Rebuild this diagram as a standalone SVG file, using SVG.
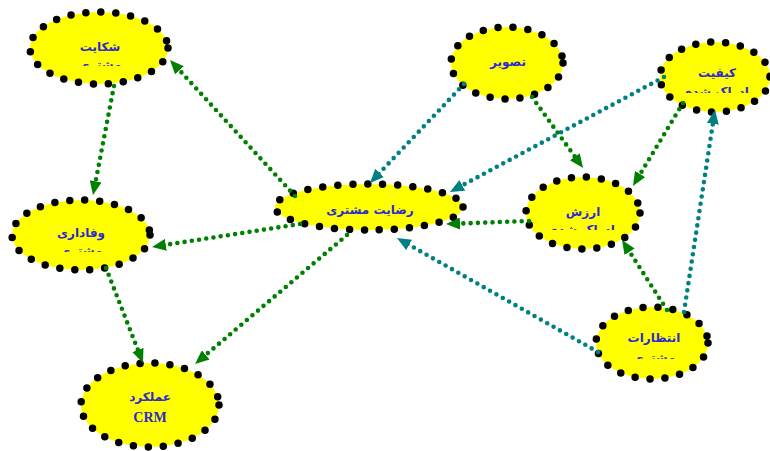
<svg xmlns="http://www.w3.org/2000/svg" width="770" height="451" viewBox="0 0 770 451">
<style>
.node{fill:#ffff00;stroke:#000;stroke-width:7.5;stroke-dasharray:0 15;stroke-linecap:round}
.lbl{font-family:"DejaVu Sans",sans-serif;font-size:12px;font-weight:bold;fill:#2b2bcf;text-anchor:middle}
.lat{font-family:"Liberation Serif",serif;font-size:14px;font-weight:bold;fill:#2b2bcf;text-anchor:middle}
.g{fill:none;stroke:#008000;stroke-width:4.6;stroke-dasharray:0 7.3;stroke-linecap:round;marker-end:url(#ag)}
.t{fill:none;stroke:#008080;stroke-width:4.6;stroke-dasharray:0 7.3;stroke-linecap:round;marker-end:url(#at)}
</style>
<defs>
<marker id="ag" markerUnits="userSpaceOnUse" markerWidth="14" markerHeight="12" refX="5" refY="6" orient="auto"><path d="M0,0 L14,6 L0,12 z" fill="#008000"/></marker>
<marker id="at" markerUnits="userSpaceOnUse" markerWidth="14" markerHeight="12" refX="5" refY="6" orient="auto"><path d="M0,0 L14,6 L0,12 z" fill="#008080"/></marker>
<clipPath id="c1"><rect x="0" y="62" width="770" height="4"/></clipPath>
<clipPath id="c2"><rect x="0" y="248" width="770" height="4"/></clipPath>
<clipPath id="c6"><rect x="0" y="87" width="770" height="6"/></clipPath>
<clipPath id="c7"><rect x="0" y="225" width="770" height="5"/></clipPath>
<clipPath id="c8"><rect x="0" y="355" width="770" height="4"/></clipPath>
</defs>
<rect width="770" height="451" fill="#fff"/>
<g id="n-shekayat"><ellipse class="node" cx="99" cy="48" rx="69" ry="36"/><text class="lbl" x="100" y="51">شکایت</text><text class="lbl" x="100" y="69" clip-path="url(#c1)">مشتری</text></g>
<g id="n-vafadari"><ellipse class="node" cx="81" cy="235" rx="69" ry="35"/><text class="lbl" x="81" y="237">وفاداری</text><text class="lbl" x="81" y="255" clip-path="url(#c2)">مشتری</text></g>
<g id="n-crm"><ellipse class="node" cx="150" cy="405" rx="69" ry="42"/><text class="lbl" x="150" y="401">عملکرد</text><text class="lat" x="150" y="422">CRM</text></g>
<g id="n-rezayat"><ellipse class="node" cx="369" cy="207" rx="94" ry="23"/><text class="lbl" x="370" y="214">رضایت مشتری</text></g>
<g id="n-tasvir"><ellipse class="node" cx="507" cy="63" rx="56" ry="36"/><text class="lbl" x="508" y="66">تصویر</text></g>
<g id="n-keyfiyat"><ellipse class="node" cx="715" cy="77" rx="55" ry="35"/><text class="lbl" x="717" y="77">کیفیت</text><text class="lbl" x="717" y="96" clip-path="url(#c6)">ادراک شده</text></g>
<g id="n-arzesh"><ellipse class="node" cx="583" cy="213" rx="57" ry="36"/><text class="lbl" x="583" y="216">ارزش</text><text class="lbl" x="583" y="234" clip-path="url(#c7)">ادراک شده</text></g>
<g id="n-entezarat"><ellipse class="node" cx="652" cy="343" rx="56" ry="36"/><text class="lbl" x="654" y="342">انتظارات</text><text class="lbl" x="654" y="362" clip-path="url(#c8)">مشتری</text></g>
<g id="connectors">
<path class="g" d="M295,196 L176.1,66.6"/>
<path class="g" d="M114,86 L94.7,186.2"/>
<path class="g" d="M300,224 L160.9,245.6"/>
<path class="g" d="M106,268 L139.7,354.6"/>
<path class="g" d="M347,235 L201.9,358.2"/>
<path class="t" d="M464,84 L376.2,176.5"/>
<path class="t" d="M664,77 L457.9,187.7"/>
<path class="g" d="M532,97 L577.8,160.7"/>
<path class="g" d="M683,103 L637.6,178.3"/>
<path class="g" d="M529,221 L455,223.7"/>
<path class="t" d="M598,352 L404.8,242.4"/>
<path class="g" d="M667,310 L626.9,247.6"/>
<path class="t" d="M684,312 L713.6,118.9"/>
</g>
</svg>
